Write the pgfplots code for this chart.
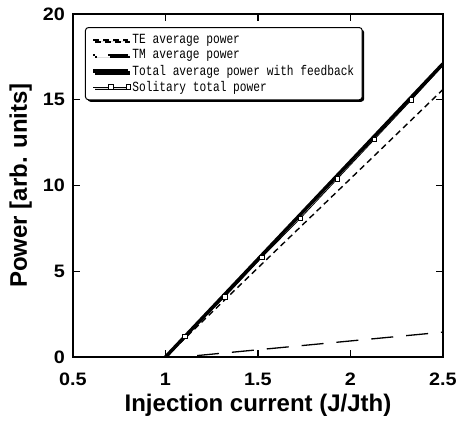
\documentclass[border=0pt]{standalone}
\usepackage{fontspec}
\setmainfont{Liberation Sans}
\newfontfamily\tickfont[FakeStretch=1.1]{Liberation Sans}
\newfontfamily\legfont[FakeStretch=0.8]{Liberation Mono}
\usepackage{pgfplots}
\pgfplotsset{compat=1.18}
\usetikzlibrary{shadows}

\begin{document}
\begin{tikzpicture}
\begin{axis}[
  at={(0,0)}, anchor=south west,
  scale only axis,
  width=370pt, height=343pt,
  xmin=0.5, xmax=2.5, ymin=0, ymax=20,
  xtick={0.5,1,1.5,2,2.5},
  ytick={0,5,10,15,20},
  xticklabels={0.5,1,1.5,2,2.5},
  yticklabels={0,5,10,15,20},
  tick align=inside,
  tick pos=both,
  major tick length=7pt,
  tick style={black, line width=1.1pt},
  axis line style={line width=1.6pt},
  ticklabel style={font=\tickfont\bfseries\fontsize{18}{18}\selectfont, inner sep=0pt},
  xticklabel style={anchor=base, yshift=-29pt},
  yticklabel style={anchor=east, xshift=-8pt},
  every axis x label/.style={at={(axis description cs:0.5,0)}, anchor=base, yshift=-55pt,
    font=\bfseries\fontsize{24}{24}\selectfont, inner sep=0pt},
  every axis y label/.style={at={(axis description cs:0,0.5)}, rotate=90, anchor=base, yshift=46pt,
    font=\bfseries\fontsize{24}{24}\selectfont, inner sep=0pt},
  xlabel={Injection current (J/Jth)},
  ylabel={Power [arb. units]},
  legend cell align=left,
  legend image code/.code={%
    \draw[#1] plot coordinates {(0pt,0pt) (17.5pt,0pt) (35pt,0pt)};},
  legend style={
    at={(rel axis cs:0.0324,0.962)}, anchor=north west,
    font=\legfont\fontsize{14}{14.5}\selectfont,
    draw=black, line width=1pt, rounded corners=3pt,
    drop shadow={shadow xshift=2pt, shadow yshift=-2pt, fill=black, opacity=1},
    row sep=0.5pt, inner xsep=6pt, inner ysep=5pt,
    /tikz/every even column/.append style={column sep=0pt},
  },
]
% TE component
\addplot[black, line width=1.4pt, dash pattern=on 6pt off 4pt]
  coordinates {(1,0) (2.5,15.6)};
\addlegendentry{TE average power}
% TM component
\addplot[black, line width=1.3pt, dash pattern=on 22pt off 13pt, dash phase=20pt]
  coordinates {(1.09,0) (2.5,1.45)};
\addlegendentry{TM average power}
% total power with optical feedback
\addplot[black, line width=3.5pt]
  coordinates {(1,0) (2.5,17.1)};
\addlegendentry{Total average power with feedback}
% solitary laser, no feedback
\addplot[black, line width=0.8pt, mark=square*, mark size=2.2pt,
  mark options={fill=white, draw=black, line width=0.6pt, solid}, mark indices={2,...,8}]
  coordinates {(1.01,0) (1.105,1.2) (1.32,3.5) (1.52,5.8) (1.73,8.1) (1.93,10.4)
               (2.13,12.7) (2.33,15.0) (2.5,17.0)};
\addlegendentry{Solitary total power}
% inward tick marks on all four sides
\pgfplotsinvokeforeach{1,1.5,2}{
  \draw[black, line width=1.1pt] (axis cs:#1,0) -- ([yshift=7pt]axis cs:#1,0);
  \draw[black, line width=1.1pt] (axis cs:#1,20) -- ([yshift=-7pt]axis cs:#1,20);
}
\pgfplotsinvokeforeach{5,10,15}{
  \draw[black, line width=1.1pt] (axis cs:0.5,#1) -- ([xshift=7pt]axis cs:0.5,#1);
  \draw[black, line width=1.1pt] (axis cs:2.5,#1) -- ([xshift=-7pt]axis cs:2.5,#1);
}
\end{axis}
\pgfresetboundingbox
\path (-73pt,-69pt) rectangle (386pt,357pt);
\end{tikzpicture}
\end{document}
